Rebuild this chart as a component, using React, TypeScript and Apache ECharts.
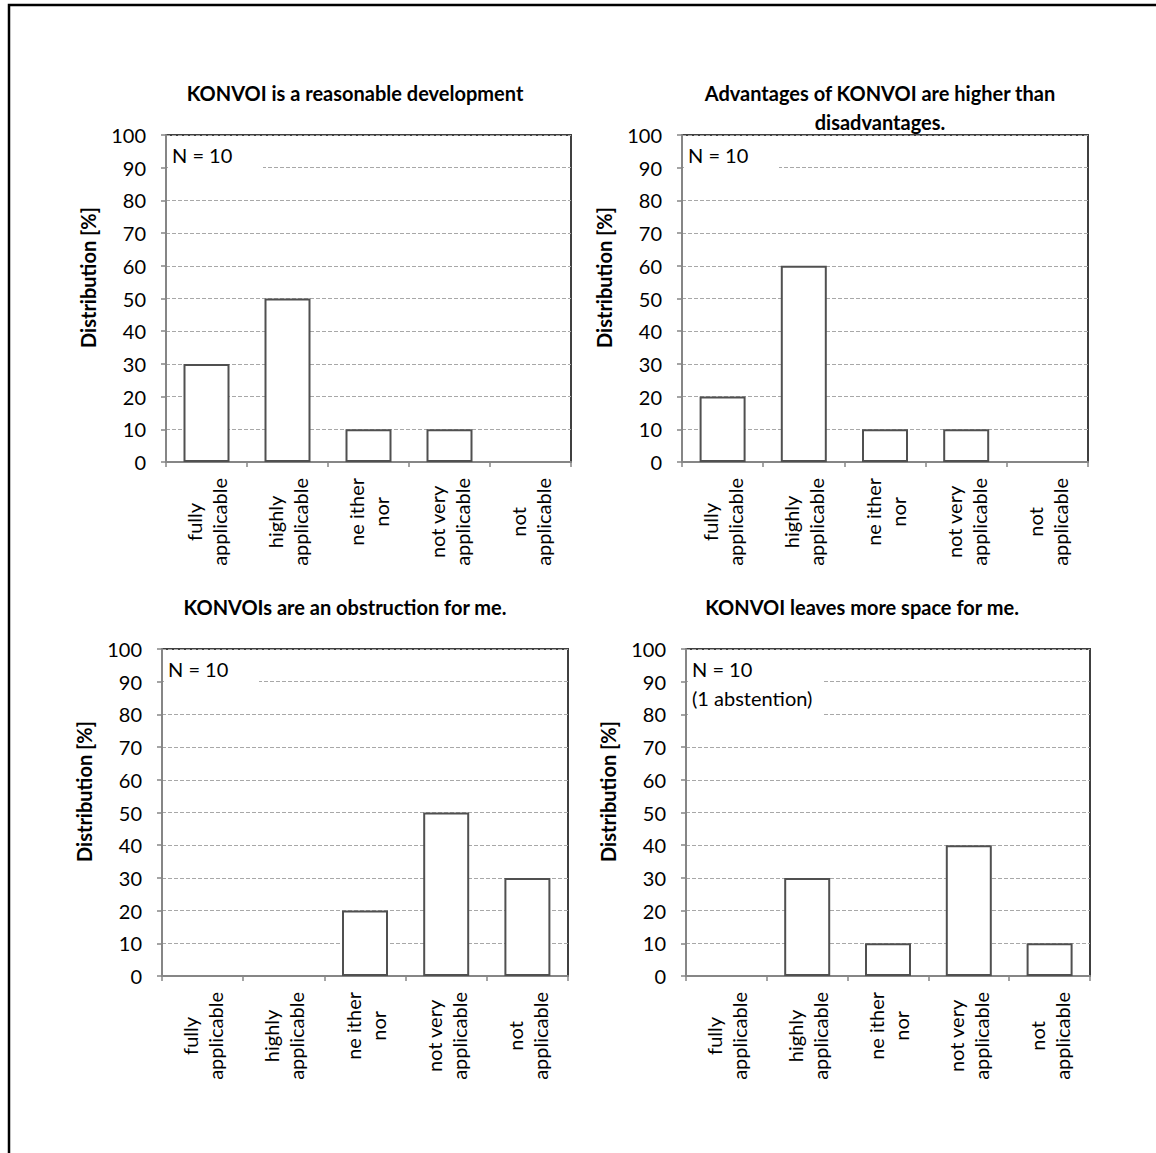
import React, { useEffect, useRef } from "react";
import * as echarts from "echarts";

const categories = ["fully\napplicable", "highly\napplicable", "ne ither\nnor", "not very\napplicable", "not\napplicable"];
const titles = [
  "KONVOI is a reasonable development",
  "Advantages of KONVOI are higher than\ndisadvantages.",
  "KONVOIs are an obstruction for me.",
  "KONVOI leaves more space for me.",
];
const valuesReasonable = [30, 50, 10, 10, 0];
const valuesAdvantages = [20, 60, 10, 10, 0];
const valuesObstruction = [0, 0, 20, 50, 30];
const valuesSpace = [0, 30, 10, 40, 10];
const notes = ["N = 10", "N = 10", "N = 10", "N = 10\n(1 abstention)"];
const yTicks = { min: 0, max: 100, interval: 10 };
const yName = "Distribution [%]";

const FONT = "Lato, 'Open Sans', sans-serif";
const FS = 20;

const panels = [
  { left: 166, right: 571, top: 135, bottom: 462, titleX: 355, titleY: 93, data: valuesReasonable },
  { left: 682, right: 1088, top: 135, bottom: 462, titleX: 880, titleY: 93, data: valuesAdvantages },
  { left: 162, right: 568, top: 649, bottom: 976, titleX: 345, titleY: 607, data: valuesObstruction },
  { left: 686, right: 1090, top: 649, bottom: 976, titleX: 862, titleY: 607, data: valuesSpace },
];
const noteBoxes = [
  { w: 95, h: 42 },
  { w: 95, h: 42 },
  { w: 95, h: 42 },
  { w: 136, h: 70 },
];

export default function App() {
  const ref = useRef<HTMLDivElement>(null);
  useEffect(() => {
    if (!ref.current) return;
    const chart = echarts.init(ref.current, null, { renderer: "svg" });
    const grid: any[] = [];
    const xAxis: any[] = [];
    const yAxis: any[] = [];
    const series: any[] = [];
    const graphic: any[] = [];

    graphic.push({
      type: "rect",
      shape: { x: 9, y: 5, width: 1170, height: 1170 },
      style: { fill: "none", stroke: "#000", lineWidth: 2.5 },
      silent: true,
      z: 10,
    });

    panels.forEach((p, i) => {
      grid.push({
        left: p.left,
        top: p.top,
        width: p.right - p.left,
        height: p.bottom - p.top,
        show: true,
        borderColor: "#404040",
        borderWidth: 2,
        backgroundColor: "#fff",
      });
      xAxis.push({
        type: "category",
        gridIndex: i,
        data: categories,
        axisLine: { lineStyle: { color: "#868686", width: 2 } },
        axisTick: { show: true, length: 5, lineStyle: { color: "#868686", width: 1.5 } },
        axisLabel: {
          rotate: 90,
          margin: 16,
          interval: 0,
          color: "#000",
          fontFamily: FONT,
          fontSize: FS,
          formatter: (v: string) => v.split("\n").map((s) => `{c|${s}}`).join("\n"),
          rich: { c: { align: "center", fontFamily: FONT, fontSize: FS, lineHeight: 25, color: "#000" } },
        },
      });
      yAxis.push({
        type: "value",
        gridIndex: i,
        min: yTicks.min,
        max: yTicks.max,
        interval: yTicks.interval,
        name: yName,
        nameLocation: "middle",
        nameRotate: 90,
        nameGap: 68,
        nameTextStyle: {
          fontFamily: FONT,
          fontSize: FS,
          fontWeight: "bold",
          color: "#000",
          padding: [0, 0, 0, 42],
        },
        axisLine: { show: true, lineStyle: { color: "#868686", width: 2 } },
        axisTick: { show: true, length: 5, lineStyle: { color: "#868686", width: 1.5 } },
        axisLabel: { margin: 20, color: "#000", fontFamily: FONT, fontSize: FS },
        splitLine: { show: true, lineStyle: { color: "#a8a8a8", width: 1, type: [4, 2] } },
      });
      series.push({
        type: "bar",
        xAxisIndex: i,
        yAxisIndex: i,
        data: p.data.map((v) => (v === 0 ? { value: v, itemStyle: { borderWidth: 0 } } : v)),
        barWidth: 46,
        itemStyle: { color: "#fff", borderColor: "#505050", borderWidth: 2 },
        z: 3,
      });
      graphic.push({
        type: "text",
        x: p.titleX,
        y: i === 1 ? p.titleY - 15 : p.titleY,
        style: {
          text: titles[i],
          fontFamily: FONT,
          fontSize: FS,
          fontWeight: "bold",
          fill: "#000",
          align: "center",
          verticalAlign: i === 1 ? "top" : "middle",
          lineHeight: 29,
        },
        z: 5,
      });
      graphic.push({
        type: "rect",
        shape: { x: p.left + 2, y: p.top + 2, width: noteBoxes[i].w, height: noteBoxes[i].h },
        style: { fill: "#fff", stroke: "none" },
        silent: true,
        z: 5,
      });
      graphic.push({
        type: "text",
        x: p.left + 6,
        y: p.top + 5,
        style: {
          text: notes[i],
          fontFamily: FONT,
          fontSize: FS,
          fill: "#000",
          align: "left",
          verticalAlign: "top",
          lineHeight: 29,
        },
        z: 6,
      });
    });

    chart.setOption({
      animation: false,
      backgroundColor: "#fff",
      grid,
      xAxis,
      yAxis,
      series,
      graphic,
    });
    return () => chart.dispose();
  }, []);
  return (
    <div
      ref={ref}
      style={{ position: "absolute", left: 0, top: 0, width: 1156, height: 1153 }}
    />
  );
}
